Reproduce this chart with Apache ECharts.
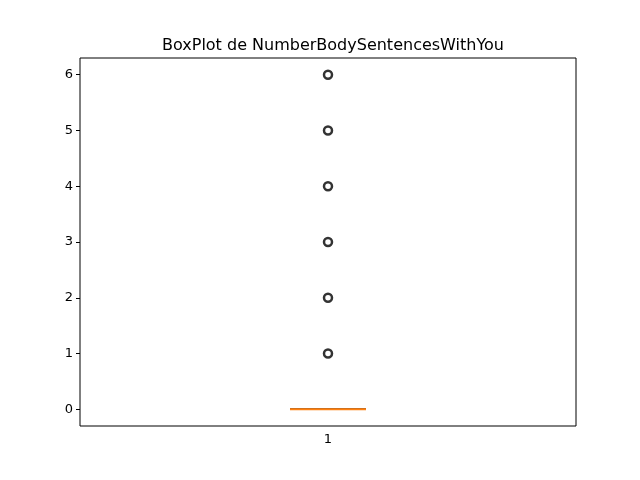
<!DOCTYPE html>
<html>
<head>
<meta charset="utf-8">
<script src="https://cdn.jsdelivr.net/npm/echarts@6/dist/echarts.min.js"></script>
<style>html,body{margin:0;background:#fff}#chart{width:640px;height:480px}</style>
</head>
<body>
<div id="chart"></div>
<script>
// box stats: min, Q1, median, Q3, max
const categories = ['1'];
const boxStats = [[0, 0, 0, 0, 0]];
const outlierValues = [1, 2, 3, 4, 5, 6];
const yTicks = [0, 1, 2, 3, 4, 5, 6];

const chart = echarts.init(document.getElementById('chart'));
const font = 'DejaVu Sans';

chart.setOption({
  animation: false,
  title: {
    text: 'BoxPlot de NumberBodySentencesWithYou',
    left: 328, top: 33, textAlign: 'center',
    textStyle: { fontFamily: font, fontSize: 16, fontWeight: 'normal', color: '#000' }
  },
  grid: { left: 80, right: 64, top: 58, bottom: 54, show: true, borderColor: '#000', borderWidth: 1 },
  xAxis: {
    type: 'category', data: categories, boundaryGap: true,
    axisLine: { show: false },
    axisTick: { alignWithLabel: true, lineStyle: { color: '#000' }, length: 4 },
    axisLabel: { color: '#000', fontFamily: font, fontSize: 13, margin: 7 }
  },
  yAxis: {
    type: 'value', min: -0.3, max: 6.3,
    splitLine: { show: false },
    axisLine: { show: false },
    axisTick: { show: true, customValues: yTicks, length: 4, lineStyle: { color: '#000' } },
    axisLabel: { customValues: yTicks, color: '#000', fontFamily: font, fontSize: 13, margin: 7 }
  },
  series: [
    {
      type: 'boxplot', data: boxStats, boxWidth: [76, 76],
      itemStyle: { color: '#fff', borderColor: '#000', borderWidth: 1 }
    },
    {
      type: 'custom',
      data: boxStats.map((b, i) => [i, b[2]]),
      renderItem: (params, api) => {
        const p = api.coord([api.value(0), api.value(1)]);
        return { type: 'line', shape: { x1: p[0] - 38, y1: p[1], x2: p[0] + 38, y2: p[1] },
          style: { stroke: '#ff7f0e', lineWidth: 2 } };
      },
      z: 5
    },
    {
      type: 'scatter',
      data: outlierValues.map(v => [0, v]),
      symbol: 'circle', symbolSize: 8,
      itemStyle: { color: '#fff', borderColor: '#000', borderWidth: 2.5 }
    }
  ]
});
</script>
</body>
</html>
